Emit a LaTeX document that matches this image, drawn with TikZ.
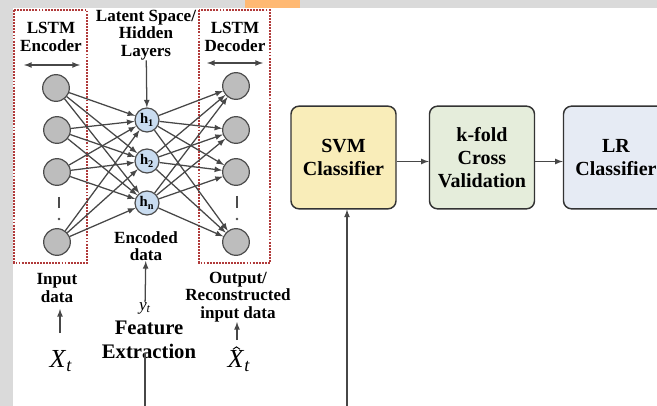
\documentclass[tikz,border=0pt]{standalone}
\usepackage{fontspec}
\setmainfont{Liberation Serif}
\usetikzlibrary{arrows}
\definecolor{encgray}{HTML}{BDBDBD}
\definecolor{hidblue}{HTML}{C9DCF0}
\definecolor{boxred}{HTML}{B03A3A}
\definecolor{svmyellow}{HTML}{F9EDB9}
\definecolor{cvgreen}{HTML}{E5EDDB}
\definecolor{lrblue}{HTML}{E6EBF4}
\definecolor{wmgray}{HTML}{DADADA}
\newcommand{\symb}[2]{\textit{#1}\textsubscript{\textit{#2}}}
\tikzstyle{enc}=[circle,
                 draw=black!70,
                 fill=encgray,
                 line width=0.9pt,
                 minimum size=20pt,
                 inner sep=0pt]
\tikzstyle{hid}=[circle,
                 draw=black!70,
                 fill=hidblue,
                 line width=0.9pt,
                 minimum size=18pt,
                 inner sep=0pt,
                 font=\fontsize{11}{11}\selectfont\bfseries]
\tikzstyle{conn}=[-latex,draw=black!72,line width=0.95pt]
\tikzstyle{lstmbox}=[draw=boxred,line width=1.1pt,dash pattern=on 1.4pt off 0.9pt]
\tikzstyle{lbl}=[align=center,inner sep=0pt,font=\fontsize{12.8}{13.2}\selectfont\bfseries]
\tikzstyle{sym}=[inner sep=0pt,font=\fontsize{19.5}{19.5}\selectfont]
\tikzstyle{stage}=[rounded corners=6pt,
                   draw=black!80,
                   line width=1.1pt,
                   minimum width=78.75pt,
                   minimum height=77pt,
                   align=center,
                   font=\fontsize{15}{17.5}\selectfont\bfseries]

\begin{document}
\begin{tikzpicture}[x=0.75pt,y=-0.75pt]
    \clip (0,0) rectangle (657,406);
    \fill[wmgray] (0,0) rectangle (657,8);
    \fill[wmgray] (0,8) rectangle (13,406);
    \fill[orange!55] (245,0) rectangle (300,8);

    % autoencoder
    \draw[lstmbox] (14,10) rectangle (87,263);
    \draw[lstmbox] (199,10) rectangle (270,263);
    \node[lbl] (enctitle) at (51,37) {LSTM\\Encoder};
    \node[lbl] (dectitle) at (235,37) {LSTM\\Decoder};
    \node[lbl] (latent) at (146,35) {Latent Space/\\Hidden\\Layers};
    \draw[latex-latex,draw=black!72,line width=1pt] (24,65) -- (80,65);
    \draw[latex-latex,draw=black!72,line width=1pt] (207,63) -- (263,63);

    \node[enc] (e1) at (56,88) {};
    \node[enc] (e2) at (57,130) {};
    \node[enc] (e3) at (57,172) {};
    \node[enc] (e4) at (57,242) {};
    \node[enc] (d1) at (236,86) {};
    \node[enc] (d2) at (236,130) {};
    \node[enc] (d3) at (236,172) {};
    \node[enc] (d4) at (236,242) {};
    \node[hid] (h1) at (147,120) {h\textsubscript{1}};
    \node[hid] (h2) at (147,161) {h\textsubscript{2}};
    \node[hid] (hn) at (147,203) {h\textsubscript{n}};

    \draw[black!70,line width=1pt] (59,197) -- (59,208) (237,196) -- (237,208);
    \fill[black!70] (59,219) circle (1pt) (237,219) circle (1pt);

    \foreach \i in {e1,e2,e3,e4}
        \foreach \j in {h1,h2,hn}
            \draw[conn] (\i) -- (\j);
    \foreach \j in {h1,h2,hn}
        \foreach \i in {d1,d2,d3,d4}
            \draw[conn] (\j) -- (\i);
    \draw[conn] (latent) -- (h1);

    % inputs and outputs
    \node[lbl] (encoded) at (146,246) {Encoded\\data};
    \node[lbl] (indata) at (57,288) {Input\\data};
    \node[lbl] (outdata) at (238,297) {Output/\\Reconstructed\\input data};
    \node[sym] (xt) at (61,361) {\symb{X}{t}};
    \node[sym] (xhat) at (239,361) {\symb{X}{t}};
    \draw[line width=0.7pt] ([xshift=-4.5pt,yshift=0.6pt]xhat.north) -- ++(2.6pt,1.8pt) -- ++(2.6pt,-1.8pt);
    \node[inner sep=0pt,font=\fontsize{13}{13}\selectfont] (yt) at (145,308) {\symb{y}{t}};
    \node[align=center,inner sep=0pt,font=\fontsize{15.5}{17.5}\selectfont\bfseries] (feat) at (149,340) {Feature\\Extraction};
    \draw[conn] (60,333) -- (60,309);
    \draw[conn] (yt) -- (encoded);
    \draw[conn] (237,340) -- (237,322);

    % classifiers
    \node[stage,fill=svmyellow] (svm) at (343.5,157.5) {SVM\\Classifier};
    \node[stage,fill=cvgreen] (kfold) at (482,157.5) {k-fold\\Cross\\Validation};
    \node[stage,fill=lrblue] (lr) at (616,157.5) {LR\\Classifier};
    \coordinate (svmin) at (347,406);
    \coordinate (featout) at (145,406);
    \draw[conn] ([yshift=-3pt]svm.east) -- ([yshift=-3pt]kfold.west);
    \draw[conn] ([yshift=-3pt]kfold.east) -- ([yshift=-3pt]lr.west);
    \draw[conn] (svmin) -- (svm.south -| svmin);
    \draw[black!72,line width=0.95pt] (feat.south -| featout) ++(0,-6) -- (featout);
\end{tikzpicture}
\end{document}
